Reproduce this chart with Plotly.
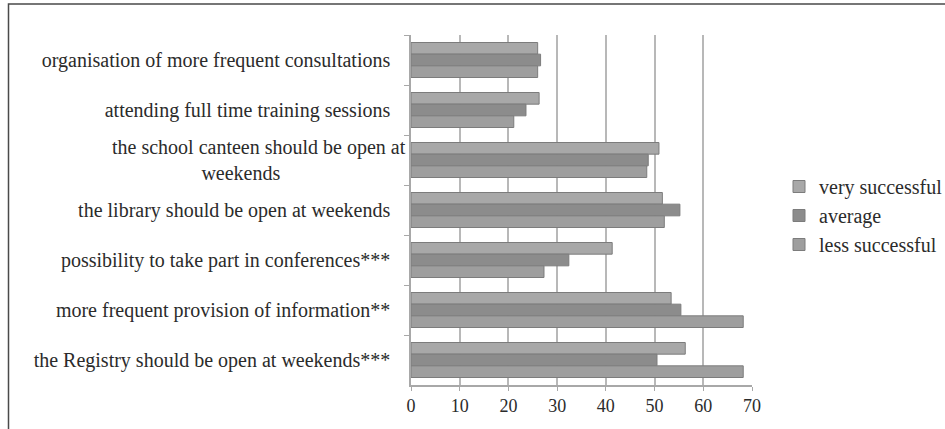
import plotly.graph_objects as go

categories = [
    "organisation of more frequent consultations",
    "attending full time training sessions",
    "the school canteen should be open at<br>weekends" + "\u00a0" * 22,
    "the library should be open at weekends",
    "possibility to take part in conferences***",
    "more frequent provision of information**",
    "the Registry should be open at weekends***",
]
series_names = ["very successful", "average", "less successful"]
very_successful = [26, 26.3, 50.9, 51.6, 41.3, 53.4, 56.3]
average = [26.6, 23.6, 48.7, 55.2, 32.4, 55.4, 50.5]
less_successful = [26, 21.1, 48.4, 52, 27.3, 68.2, 68.2]
x_ticks = [0, 10, 20, 30, 40, 50, 60, 70]

colors = ["#a8a8a8", "#8c8c8c", "#9e9e9e"]
values = [very_successful, average, less_successful]

fig = go.Figure()
for name, vals, col in zip(series_names, values, colors):
    fig.add_trace(go.Bar(
        y=categories, x=vals, name=name, orientation="h",
        marker=dict(color=col, line=dict(color="#7c7c7c", width=1)),
    ))

L, R, T, B = 411, 193, 35, 44
pw = 945 - L - R
ph = 429 - T - B

def px_x(x):
    return (x - L) / pw

def px_y(y):
    return (429 - B - y) / ph

TXT = "#2b2b2b"
fig.update_layout(
    width=945, height=429,
    margin=dict(l=L, r=R, t=T, b=B, autoexpand=False),
    paper_bgcolor="white", plot_bgcolor="white",
    barmode="group", bargap=0.3, bargroupgap=0,
    font=dict(family="Liberation Serif, Times New Roman, serif", size=20, color=TXT),
    showlegend=True,
    legend=dict(
        x=px_x(779), y=px_y(167), xanchor="left", yanchor="top",
        font=dict(size=20, color=TXT), itemwidth=30, tracegroupgap=0,
        bgcolor="rgba(0,0,0,0)",
    ),
    xaxis=dict(
        range=[0, 70], tickvals=x_ticks, showgrid=True, gridcolor="#b8b8b8", gridwidth=1.5,
        showline=True, linecolor="#a8a8a8", linewidth=1.5, zeroline=False,
        ticks="outside", ticklen=4, tickcolor="#a8a8a8",
        tickfont=dict(size=18, color=TXT), fixedrange=True,
    ),
    yaxis=dict(
        autorange="reversed", showline=True, linecolor="#a8a8a8", linewidth=1.5,
        ticks="outside", tickson="boundaries", ticklen=5, tickcolor="#a8a8a8",
        showgrid=False, ticksuffix="\u00a0\u00a0\u00a0", tickfont=dict(size=20, color=TXT),
        fixedrange=True,
    ),
    shapes=[
        dict(type="rect", xref="paper", yref="paper",
             x0=px_x(8.5), x1=px_x(960), y0=px_y(440), y1=px_y(4),
             line=dict(color="#4a4a4a", width=1.5), fillcolor="rgba(0,0,0,0)", layer="below"),
    ],
)

fig.write_html("out.html", post_script="document.body.style.margin='0';",
               config={"displayModeBar": False})
